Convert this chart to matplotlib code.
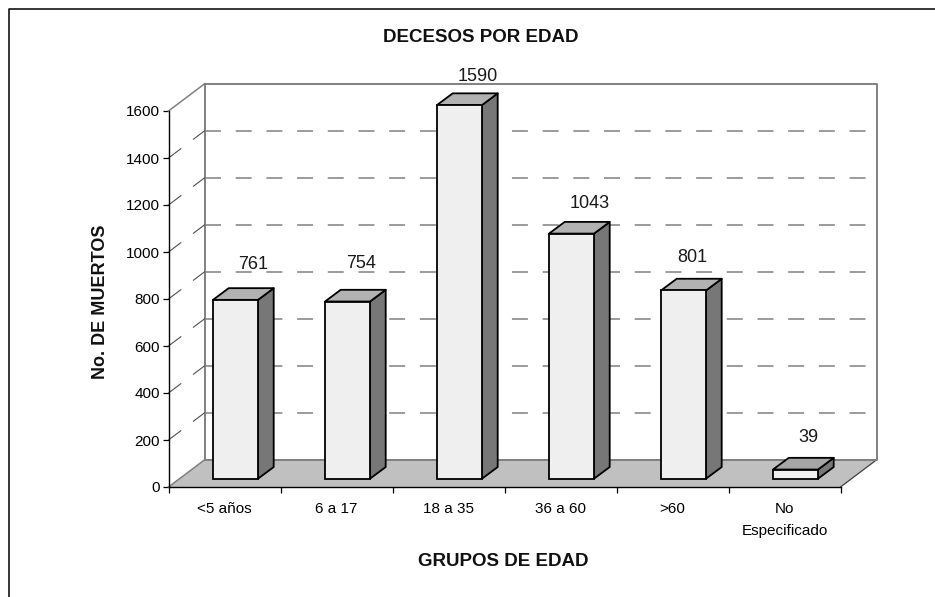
import matplotlib
matplotlib.use("Agg")
import matplotlib.pyplot as plt
from matplotlib.patches import Polygon, Rectangle

plt.rcParams['font.family'] = ['Liberation Sans', 'DejaVu Sans']
plt.rcParams['lines.scale_dashes'] = False

categories = ['<5 años', '6 a 17', '18 a 35', '36 a 60', '>60', 'No\nEspecificado']
deaths = [761, 754, 1590, 1043, 801, 39]
y_ticks = [0, 200, 400, 600, 800, 1000, 1200, 1400, 1600]

W, H = 935, 597
# plot box in pixels of the picture
left, right, bottom, top = 168.5, 840.5, 487, 111
px_x = (right - left) / 6
px_y = (bottom - top) / 1600
# depth of the box and of the bars, in data units
depth_x = 36.5 / px_x
depth_y = 27.5 / px_y
bar_dx = 15.7 / px_x
bar_dy = 11.7 / px_y
bar_w = 45 / px_x
bar_x0 = 44.5 / px_x
bar_y0 = 8.3 / px_y

# label shift from the bar centre, pixels
label_shift = [(18, 35), (14, 38), (18, 29), (18, 30), (9, 33), (13, 32)]

GREY = '#808080'
DASH = (0, (11.5, 10.6))

fig = plt.figure(figsize=(W / 100, H / 100), dpi=100)
fig.patch.set_facecolor('white')
ax = fig.add_axes([left / W, 1 - bottom / H, (right - left) / W, (bottom - top) / H])
ax.set_xlim(0, 6)
ax.set_ylim(0, 1600)
ax.patch.set_visible(False)

# outer frame of the chart, only top and left are inside the picture
fig.add_artist(plt.Line2D([9 / W, 9 / W, 1], [0, 1 - 9 / H, 1 - 9 / H], transform=fig.transFigure,
                          color='black', lw=1.1))

# floor and walls
ax.add_patch(Polygon([(0, 0), (depth_x, depth_y), (6 + depth_x, depth_y), (6, 0)],
                     fc='#c0c0c0', ec='none', clip_on=False, zorder=1))
ax.plot([0, depth_x], [0, depth_y], color=GREY, lw=1.1, clip_on=False, zorder=2)
ax.plot([6, 6 + depth_x], [0, depth_y], color='#404040', lw=0.9, clip_on=False, zorder=2)
ax.plot([depth_x, depth_x, 6 + depth_x, 6 + depth_x, depth_x], [depth_y, 1600 + depth_y, 1600 + depth_y, depth_y, depth_y],
        color=GREY, lw=1.4, clip_on=False, zorder=2)
ax.plot([0, depth_x], [1600, 1600 + depth_y], color=GREY, lw=1.1, clip_on=False, zorder=2)

# dashed grid on the back and side walls
for t in y_ticks[1:-1]:
    ax.plot([0, depth_x], [t, t + depth_y], color='#505050', lw=0.8, ls=DASH, clip_on=False, zorder=2)
    ax.plot([depth_x, 6 + depth_x], [t + depth_y, t + depth_y], color=GREY, lw=1.1,
            ls=DASH, clip_on=False, zorder=2)

# bars
for i, v in enumerate(deaths):
    x0 = i + bar_x0
    x1 = x0 + bar_w
    y0 = bar_y0
    y1 = y0 + v
    top_col = '#a6a6a6' if v < 100 else '#b2b2b2'
    ax.add_patch(Polygon([(x1, y0), (x1 + bar_dx, y0 + bar_dy), (x1 + bar_dx, y1 + bar_dy), (x1, y1)],
                         fc='#777777', ec='black', lw=1.3, clip_on=False, zorder=3, joinstyle='round'))
    ax.add_patch(Polygon([(x0, y1), (x0 + bar_dx, y1 + bar_dy), (x1 + bar_dx, y1 + bar_dy), (x1, y1)],
                         fc=top_col, ec='black', lw=1.3, clip_on=False, zorder=3, joinstyle='round'))
    ax.add_patch(Rectangle((x0, y0), bar_w, v, fc='#efefef', ec='black', lw=1.3, clip_on=False, zorder=4))
    sx, sy = label_shift[i]
    ax.annotate(str(v), xy=(x0 + bar_w / 2, y1), xytext=(sx * 0.72, sy * 0.72), textcoords='offset points',
                ha='center', va='center', fontsize=13, color='#1a1a1a', zorder=5, annotation_clip=False)

for s in ('top', 'right'):
    ax.spines[s].set_visible(False)
for s in ('left', 'bottom'):
    ax.spines[s].set_linewidth(1.0)
    ax.spines[s].set_zorder(6)

ax.set_yticks(y_ticks)
ax.set_xticks(range(7))
ax.set_xticklabels([])
ax.set_xticks([i + 0.5 for i in range(6)], labels=categories, minor=True)
ax.tick_params(axis='x', which='major', length=4.3, width=0.9, direction='out')
ax.tick_params(axis='x', which='minor', length=0, pad=11, labelsize=11)
ax.tick_params(axis='y', length=4.5, width=0.9, direction='out', pad=1.5, labelsize=11)
for lab in ax.get_xticklabels(minor=True):
    lab.set_linespacing(1.7)

fig.text(480.5 / W, 1 - 38 / H, 'DECESOS POR EDAD', ha='center', va='center', fontsize=13.5, fontweight='bold', color='#111111')
fig.text(503.5 / W, 1 - 562 / H, 'GRUPOS DE EDAD', ha='center', va='center', fontsize=13.5, fontweight='bold', color='#111111')
fig.text(100.5 / W, 1 - 302 / H, 'No. DE MUERTOS', ha='center', va='center', rotation=90, fontsize=13, fontweight='bold', color='#111111')

fig.savefig('out.png', dpi=100)
